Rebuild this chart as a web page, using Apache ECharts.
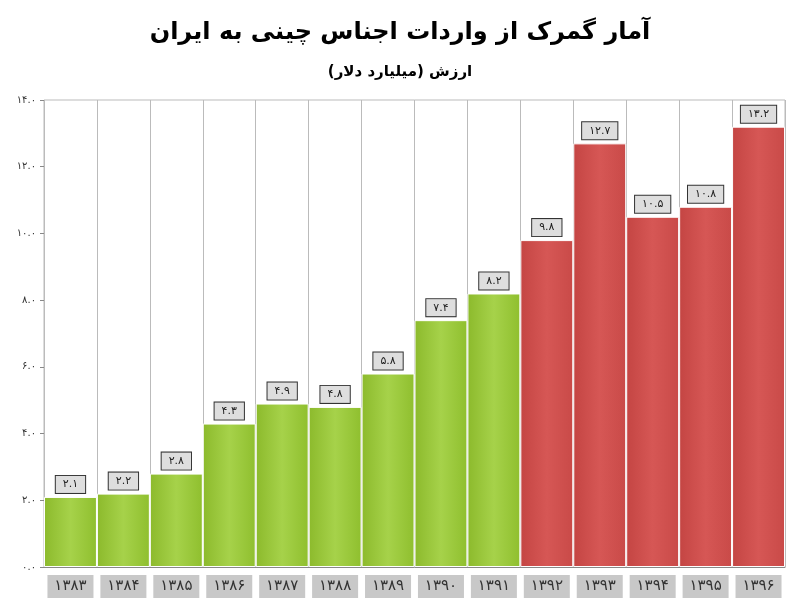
<!DOCTYPE html>
<html lang="fa">
<head>
<meta charset="UTF-8">
<title>Chart</title>
<script src="https://cdn.jsdelivr.net/npm/echarts@6/dist/echarts.min.js"></script>
<style>
html,body{margin:0;padding:0;background:#fff;}
#main{width:800px;height:604px;}
</style>
</head>
<body>
<div id="main"></div>
<script>
var years = ['۱۳۸۳','۱۳۸۴','۱۳۸۵','۱۳۸۶','۱۳۸۷','۱۳۸۸','۱۳۸۹','۱۳۹۰','۱۳۹۱','۱۳۹۲','۱۳۹۳','۱۳۹۴','۱۳۹۵','۱۳۹۶'];
var values = [2.1, 2.2, 2.8, 4.3, 4.9, 4.8, 5.8, 7.4, 8.2, 9.8, 12.7, 10.5, 10.8, 13.2];
var redFrom = 9; // bars from ۱۳۹۲ onward are red

var digits = '۰۱۲۳۴۵۶۷۸۹';
function fa(s) { return String(s).replace(/[0-9]/g, function (d) { return digits[+d]; }); }

var chart = echarts.init(document.getElementById('main'));
var green = new echarts.graphic.LinearGradient(1, 0, 0, 0, [
    {offset: 0, color: '#8fbf2e'}, {offset: 0.5, color: '#a6d24a'}, {offset: 1, color: '#8cba2c'}]);
var red = new echarts.graphic.LinearGradient(1, 0, 0, 0, [
    {offset: 0, color: '#c94a48'}, {offset: 0.5, color: '#d65755'}, {offset: 1, color: '#c44543'}]);

chart.setOption({
    title: [
        {text: 'آمار گمرک از واردات اجناس چینی به ایران', left: 'center', top: 16,
         textStyle: {fontFamily: 'DejaVu Sans', fontSize: 24, fontWeight: 'bold', color: '#000'}},
        {text: 'ارزش (میلیارد دلار)', left: 'center', top: 60,
         textStyle: {fontFamily: 'DejaVu Sans', fontSize: 15, fontWeight: 'bold', color: '#000'}}
    ],
    grid: {left: 44, right: 15, top: 100, bottom: 37, show: true, borderColor: '#bbb', borderWidth: 1},
    xAxis: {
        type: 'category', data: years,
        axisLine: {lineStyle: {color: '#888'}}, axisTick: {show: false},
        splitLine: {show: true, lineStyle: {color: '#bbb'}},
        axisLabel: {interval: 0, margin: 8, fontFamily: 'DejaVu Sans', fontSize: 15, color: '#333',
            backgroundColor: '#c8c8c8', padding: [4, 5], width: 36, align: 'center'}
    },
    yAxis: {
        type: 'value', min: 0, max: 14, interval: 2,
        axisLine: {show: false}, axisTick: {show: true, length: 4, lineStyle: {color: '#888'}},
        splitLine: {show: false},
        axisLabel: {formatter: function (v) { return fa(v.toFixed(1)); }, fontFamily: 'DejaVu Sans', fontSize: 10, color: '#333'}
    },
    series: [{
        type: 'bar', barCategoryGap: 0,
        data: values.map(function (v, i) {
            return {value: v, itemStyle: {color: i >= redFrom ? red : green}};
        }),
        itemStyle: {borderColor: '#fff', borderWidth: 1},
        label: {show: true, position: 'top', distance: 4, formatter: function (p) { return fa(p.value.toFixed(1)); },
            fontFamily: 'DejaVu Sans', fontSize: 11, color: '#222',
            backgroundColor: '#dedede', borderColor: '#333', borderWidth: 1, padding: [3, 7]}
    }]
});
</script>
</body>
</html>
